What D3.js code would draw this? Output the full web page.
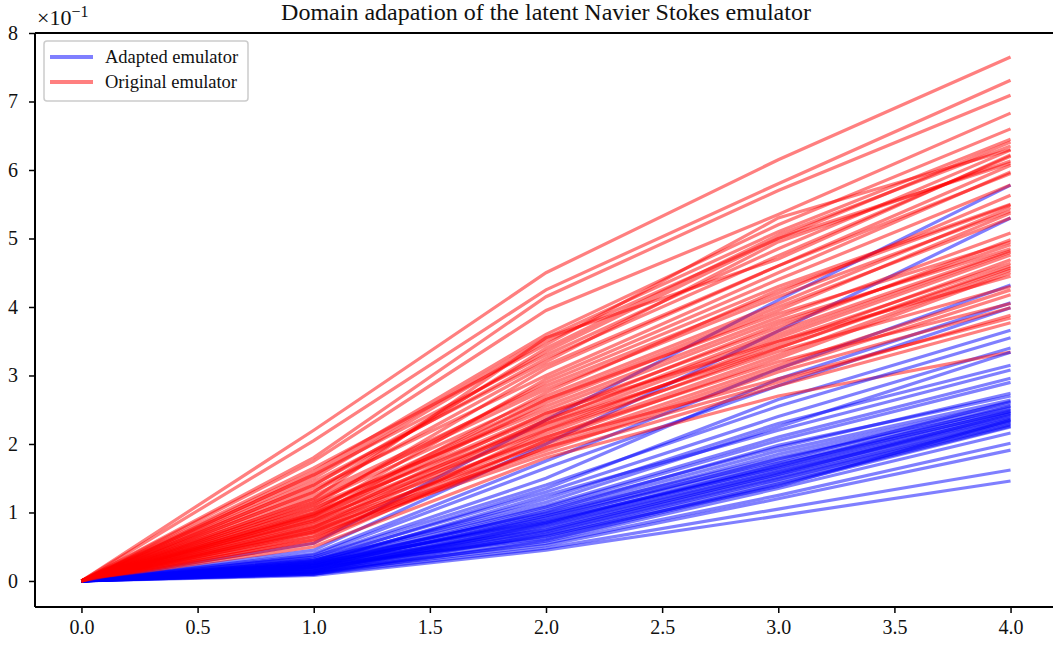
<!DOCTYPE html>
<html>
<head>
<meta charset="utf-8">
<script src="https://cdn.jsdelivr.net/npm/d3@7"></script>
<style>
  body { margin: 0; background: #fff; }
  svg { display: block; font-family: 'Liberation Serif', 'Times New Roman', serif; }
</style>
</head>
<body>
<script>
// time steps on the x axis
var steps = [0, 1, 2, 3, 4]

// adapted emulator trajectories, values at steps 1..4 (x 10^-1), step 0 is 0
var adapted = [
    [0.55, 2.35, 4.10, 5.78],
    [0.45, 2.00, 3.65, 5.30],
    [0.40, 1.75, 3.10, 4.32],
    [0.35, 1.50, 2.95, 4.06],
    [0.38, 1.65, 2.85, 3.99],
    [0.30, 1.35, 2.65, 3.66],
    [0.32, 1.30, 2.40, 3.40],
    [0.28, 1.20, 2.30, 3.15],
    [0.25, 1.25, 2.20, 3.08],
    [0.30, 1.10, 2.10, 2.96],
    [0.22, 1.05, 1.95, 2.74],
    [0.25, 1.00, 1.90, 2.64],
    [0.20, 0.95, 1.85, 2.60],
    [0.28, 0.98, 1.80, 2.56],
    [0.18, 0.90, 1.78, 2.52],
    [0.22, 0.92, 1.72, 2.50],
    [0.15, 0.85, 1.70, 2.47],
    [0.25, 0.88, 1.65, 2.45],
    [0.20, 0.82, 1.62, 2.42],
    [0.12, 0.80, 1.60, 2.40],
    [0.18, 0.78, 1.58, 2.38],
    [0.24, 0.75, 1.55, 2.36],
    [0.14, 0.72, 1.52, 2.34],
    [0.20, 0.70, 1.50, 2.32],
    [0.10, 0.68, 1.48, 2.30],
    [0.16, 0.65, 1.45, 2.28],
    [0.22, 0.62, 1.42, 2.26],
    [0.12, 0.60, 1.40, 2.25],
    [0.18, 0.66, 1.38, 2.35],
    [0.26, 0.86, 1.68, 2.55],
    [0.10, 0.58, 1.35, 2.16],
    [0.14, 0.55, 1.25, 2.01],
    [0.12, 0.52, 1.20, 1.91],
    [0.10, 0.48, 1.05, 1.62],
    [0.08, 0.45, 0.95, 1.46],
    [0.30, 1.15, 2.25, 3.34],
    [0.26, 1.08, 2.05, 2.90],
    [0.35, 1.40, 2.55, 3.55],
    [0.20, 0.95, 1.75, 2.62],
    [0.16, 0.74, 1.56, 2.44],
    [0.22, 1.02, 1.98, 2.70],
    [0.14, 0.84, 1.66, 2.48]
]

// original emulator trajectories, same layout
var original = [
    [2.20, 4.50, 6.15, 7.65],
    [2.05, 4.25, 5.80, 7.31],
    [1.80, 4.15, 5.70, 7.09],
    [1.75, 3.95, 5.35, 6.83],
    [1.60, 3.60, 5.20, 6.60],
    [1.50, 3.50, 5.00, 6.41],
    [1.30, 3.40, 5.05, 6.35],
    [1.55, 3.30, 4.85, 6.29],
    [1.20, 3.55, 4.70, 6.22],
    [1.45, 3.20, 4.95, 6.13],
    [1.10, 3.10, 4.60, 6.07],
    [1.35, 3.00, 4.50, 5.97],
    [1.00, 2.95, 4.40, 5.78],
    [1.25, 2.85, 4.20, 5.63],
    [0.95, 2.75, 4.25, 5.49],
    [1.15, 2.70, 4.05, 5.45],
    [0.90, 2.60, 3.95, 5.37],
    [1.05, 2.55, 3.85, 5.08],
    [0.85, 2.45, 3.70, 4.98],
    [1.00, 2.40, 3.75, 4.91],
    [0.80, 2.35, 3.60, 4.80],
    [0.95, 2.30, 3.55, 4.76],
    [0.75, 2.25, 3.45, 4.69],
    [0.90, 2.20, 3.50, 4.64],
    [0.70, 2.15, 3.40, 4.57],
    [0.85, 2.10, 3.30, 4.54],
    [0.65, 2.05, 3.25, 4.50],
    [0.80, 2.00, 3.15, 4.25],
    [0.60, 1.95, 3.10, 4.18],
    [0.75, 1.90, 3.05, 3.99],
    [0.55, 2.05, 2.95, 3.84],
    [0.70, 1.85, 2.85, 3.77],
    [0.50, 1.80, 2.70, 3.34],
    [1.40, 3.25, 4.75, 6.20],
    [1.15, 2.90, 4.30, 5.50],
    [0.95, 2.65, 4.00, 5.30],
    [1.10, 2.50, 3.80, 4.85],
    [0.60, 2.20, 3.35, 4.30],
    [0.88, 2.35, 3.65, 4.82],
    [1.20, 2.80, 4.15, 5.40],
    [0.72, 2.10, 3.20, 4.05],
    [1.55, 3.55, 5.10, 6.45],
    [0.98, 2.45, 3.50, 4.45],
    [0.65, 1.95, 2.90, 3.88],
    [1.30, 3.15, 4.60, 5.95],
    [1.65, 3.45, 5.30, 6.30],
    [1.05, 2.65, 3.90, 4.95],
    [0.78, 2.30, 3.40, 4.60],
    [1.40, 3.35, 5.00, 6.10]
]

var xTicks = [0, 0.5, 1, 1.5, 2, 2.5, 3, 3.5, 4]
var yTicks = [0, 1, 2, 3, 4, 5, 6, 7, 8]

var width = 1053, height = 645
var mLeft = 35, mRight = 1057, mTop = 33, mBottom = 607

var svg = d3.select('body').append('svg')
    .attr('width', width)
    .attr('height', height)

var x = d3.scaleLinear().domain([-0.2, 4.2]).range([mLeft, mRight])
var y = d3.scaleLinear().domain([-0.38, 8.0]).range([mBottom, mTop])

var line = d3.line()
    .x(function (d, i) { return x(steps[i]) })
    .y(function (d) { return y(d) })

svg.append('clipPath').attr('id', 'clip')
    .append('rect')
    .attr('x', mLeft).attr('y', mTop)
    .attr('width', mRight - mLeft).attr('height', mBottom - mTop)

var plot = svg.append('g')
    .attr('clip-path', 'url(#clip)')

// interleave so that each sample pair is drawn blue then red
var n = Math.max(adapted.length, original.length)
for (var i = 0; i < n; i++) {
    if (i < adapted.length) {
        plot.append('path')
            .attr('d', line([0].concat(adapted[i])))
            .attr('fill', 'none')
            .attr('stroke', 'blue')
            .attr('stroke-opacity', 0.5)
            .attr('stroke-width', 3.2)
    }
    if (i < original.length) {
        plot.append('path')
            .attr('d', line([0].concat(original[i])))
            .attr('fill', 'none')
            .attr('stroke', 'red')
            .attr('stroke-opacity', 0.5)
            .attr('stroke-width', 3.2)
    }
}

// axes
svg.append('g')
    .attr('transform', 'translate(0,' + mBottom + ')')
    .call(d3.axisBottom(x).tickValues(xTicks).tickFormat(d3.format('.1f')).tickSizeOuter(0).tickSize(6).tickPadding(7))
svg.append('g')
    .attr('transform', 'translate(' + mLeft + ',0)')
    .call(d3.axisLeft(y).tickValues(yTicks).tickFormat(d3.format('d')).tickSizeOuter(0).tickSize(6).tickPadding(11))

svg.selectAll('.domain').remove()
svg.selectAll('.tick line').attr('stroke', '#000').attr('stroke-width', 1.5)
svg.selectAll('.tick text')
    .attr('font-family', "'Liberation Serif', serif")
    .attr('font-size', 20)
    .attr('fill', '#111')

// spines
svg.append('line').attr('x1', mLeft).attr('x2', mLeft).attr('y1', mTop).attr('y2', mBottom)
    .attr('stroke', '#000').attr('stroke-width', 2)
svg.append('line').attr('x1', mLeft).attr('x2', mRight).attr('y1', mBottom).attr('y2', mBottom)
    .attr('stroke', '#000').attr('stroke-width', 2)
svg.append('line').attr('x1', mLeft).attr('x2', mRight).attr('y1', mTop).attr('y2', mTop)
    .attr('stroke', '#000').attr('stroke-width', 2)

// offset label
var off = svg.append('text')
    .attr('x', 37).attr('y', 25)
    .attr('font-size', 22)
    .attr('fill', '#111')
off.append('tspan').text('\u00d710')
off.append('tspan').attr('dy', -8).attr('font-size', 16).text('\u22121')

// title
svg.append('text')
    .attr('x', (mLeft + mRight) / 2).attr('y', 20)
    .attr('text-anchor', 'middle')
    .attr('font-size', 24)
    .attr('fill', '#111')
    .text('Domain adapation of the latent Navier Stokes emulator')

// legend
var legend = svg.append('g')
legend.append('rect')
    .attr('x', 44).attr('y', 41)
    .attr('width', 204).attr('height', 60)
    .attr('rx', 3)
    .attr('fill', '#fff').attr('fill-opacity', 0.8)
    .attr('stroke', '#ccc').attr('stroke-width', 1.5)
var items = [['Adapted emulator', 'blue'], ['Original emulator', 'red']]
items.forEach(function (d, i) {
    var cy = 57 + i * 25
    legend.append('line')
        .attr('x1', 50).attr('x2', 93).attr('y1', cy).attr('y2', cy)
        .attr('stroke', d[1]).attr('stroke-opacity', 0.5).attr('stroke-width', 4)
    legend.append('text')
        .attr('x', 105).attr('y', cy + 6)
        .attr('font-size', 18.5)
        .attr('fill', '#111')
        .text(d[0])
})
</script>
</body>
</html>
